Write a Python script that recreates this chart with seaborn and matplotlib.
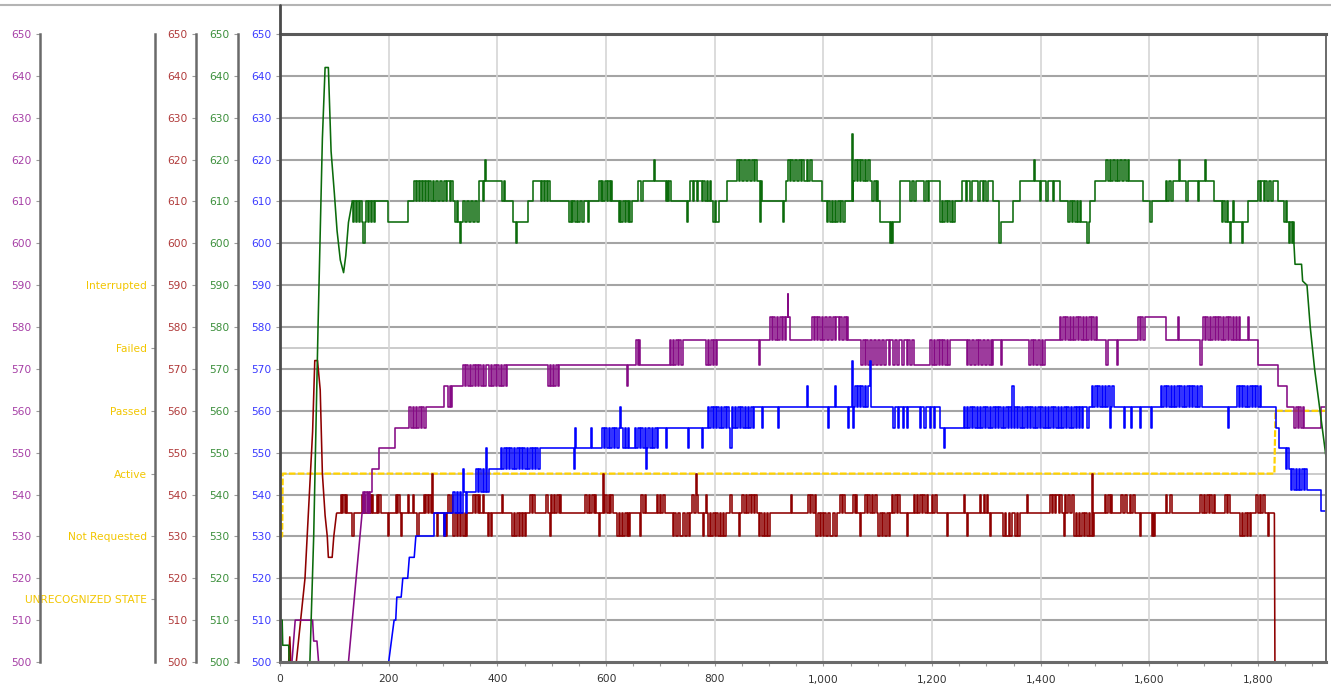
import matplotlib
matplotlib.use("Agg")
import matplotlib.pyplot as plt
from matplotlib.lines import Line2D
from matplotlib.ticker import MultipleLocator, FuncFormatter
import seaborn as sns
import pandas as pd

# ---------------- data ----------------
x_ticks = [0, 200, 400, 600, 800, 1000, 1200, 1400, 1600, 1800]
y_ticks = list(range(500, 651, 10))
status_levels = [515, 530, 545, 560, 575, 590]
status_names = ["UNRECOGNIZED STATE", "Not Requested", "Active", "Passed", "Failed", "Interrupted"]

status_line = [(0, 530), (4, 530), (5, 545), (1830, 545), (1832, 560), (1925, 560)]

green_start = [(0, 510), (4, 510), (5, 504), (16, 504), (17, 500), (55, 500), (62, 530), (70, 580),
               (78, 625), (83, 642), (89, 642), (94, 622), (100, 612), (105, 603), (111, 596),
               (117, 593), (121, 597), (126, 605), (133, 610)]
green_run = [
    (133, 610), (135, 605), (137, 610), (140, 605), (142, 610), (145, 605), (147, 610), (150, 605),
    (153, 600), (156, 605), (159, 610), (162, 605), (164, 610), (167, 605), (170, 610), (173, 605),
    (175, 610), (199, 605), (236, 610), (247, 615), (250, 610), (252, 615), (255, 610), (258, 615),
    (261, 610), (263, 615), (266, 610), (269, 615), (272, 610), (275, 615), (278, 610), (281, 615),
    (284, 610), (287, 615), (291, 610), (294, 615), (298, 610), (301, 615), (305, 610), (308, 615),
    (312, 610), (315, 615), (319, 610), (322, 605), (325, 610), (328, 605), (331, 600), (334, 605),
    (337, 610), (341, 605), (344, 610), (348, 605), (351, 610), (355, 605), (358, 610), (362, 605),
    (367, 615), (373, 610), (375, 615), (377, 620), (379, 615), (409, 610), (412, 615), (414, 610),
    (428, 605), (435, 600), (437, 605), (457, 610), (466, 615), (481, 610), (483, 615), (486, 610),
    (488, 615), (491, 610), (494, 615), (496, 610), (532, 605), (535, 610), (537, 605), (540, 610),
    (543, 605), (546, 610), (549, 605), (552, 610), (555, 605), (559, 610), (567, 605), (569, 610),
    (587, 615), (590, 610), (592, 615), (595, 610), (598, 615), (601, 610), (604, 615), (607, 610),
    (609, 615), (611, 610), (623, 605), (626, 610), (628, 605), (631, 610), (634, 605), (637, 610),
    (640, 605), (643, 610), (645, 605), (647, 610), (659, 615), (664, 610), (668, 615), (689, 620),
    (691, 615), (710, 610), (712, 615), (714, 610), (716, 615), (719, 610), (749, 605), (751, 610),
    (755, 615), (760, 610), (762, 615), (767, 610), (770, 615), (776, 610), (779, 615), (782, 610),
    (785, 615), (788, 610), (791, 615), (793, 610), (796, 605), (800, 610), (802, 605), (807, 610),
    (822, 615), (841, 620), (844, 615), (847, 620), (851, 615), (854, 620), (858, 615), (861, 620),
    (865, 615), (868, 620), (872, 615), (875, 620), (878, 615), (883, 605), (885, 615), (887, 610),
    (926, 605), (928, 610), (931, 615), (935, 620), (938, 615), (941, 620), (944, 615), (948, 620),
    (951, 615), (955, 620), (958, 615), (961, 620), (965, 615), (969, 620), (972, 615), (976, 620),
    (979, 615), (997, 610), (1006, 605), (1009, 610), (1012, 605), (1015, 610), (1018, 605),
    (1021, 610), (1024, 605), (1027, 610), (1030, 605), (1033, 610), (1036, 605), (1040, 610),
    (1052, 626), (1054, 610), (1055, 615), (1058, 620), (1061, 615), (1064, 620), (1067, 615),
    (1070, 620), (1073, 615), (1076, 620), (1079, 615), (1082, 620), (1085, 615), (1089, 610),
    (1093, 615), (1096, 610), (1099, 615), (1101, 610), (1104, 605), (1122, 600), (1124, 605),
    (1126, 600), (1128, 605), (1141, 615), (1160, 610), (1163, 615), (1167, 610), (1170, 615),
    (1185, 610), (1188, 615), (1192, 610), (1195, 615), (1215, 605), (1218, 610), (1221, 605),
    (1224, 610), (1227, 605), (1230, 610), (1233, 605), (1236, 610), (1239, 605), (1242, 610),
    (1255, 615), (1262, 610), (1265, 615), (1270, 610), (1273, 615), (1285, 610), (1288, 615),
    (1293, 610), (1296, 615), (1300, 610), (1303, 615), (1313, 610), (1324, 600), (1326, 605),
    (1349, 610), (1362, 615), (1388, 620), (1390, 615), (1398, 610), (1401, 615), (1410, 610),
    (1413, 615), (1422, 610), (1425, 615), (1436, 610), (1451, 605), (1454, 610), (1457, 605),
    (1460, 610), (1463, 605), (1466, 610), (1469, 605), (1472, 610), (1475, 605), (1486, 600),
    (1488, 605), (1490, 610), (1500, 615), (1521, 620), (1524, 615), (1527, 620), (1530, 615),
    (1533, 620), (1537, 615), (1540, 620), (1543, 615), (1546, 620), (1550, 615), (1553, 620),
    (1557, 615), (1560, 620), (1563, 615), (1588, 610), (1602, 605), (1604, 610), (1630, 615),
    (1633, 610), (1636, 615), (1640, 610), (1643, 615), (1654, 620), (1656, 615), (1668, 610),
    (1671, 615), (1690, 610), (1692, 615), (1702, 620), (1704, 615), (1718, 610), (1733, 605),
    (1736, 610), (1739, 605), (1742, 610), (1745, 605), (1748, 600), (1750, 605), (1753, 610),
    (1756, 605), (1770, 600), (1772, 605), (1782, 610), (1800, 615), (1803, 610), (1806, 615),
    (1810, 610), (1813, 615), (1817, 610), (1820, 615), (1824, 610), (1827, 615), (1836, 610),
    (1848, 605), (1851, 610), (1854, 605), (1857, 600), (1859, 605), (1862, 600), (1864, 605),
    (1866, 600)]
green_end = [(1866, 600), (1868, 595), (1880, 595), (1882, 591), (1890, 590), (1896, 580),
             (1904, 570), (1912, 562), (1918, 556), (1925, 549)]

red_start = [(16, 500), (18, 506), (20, 500), (30, 500), (46, 520), (60, 555), (64, 572),
             (69, 572), (74, 565), (78, 545), (83, 535), (87, 530), (89, 525), (96, 525),
             (99, 530), (104, 535.5)]
red_run = [
    (104, 535.5), (112, 540), (114, 535.5), (116, 540), (119, 535.5), (121, 540), (124, 535.5),
    (133, 530), (136, 535.5), (151, 540), (153, 535.5), (155, 540), (157, 535.5), (166, 540),
    (168, 535.5), (170, 540), (172, 535.5), (178, 540), (181, 535.5), (183, 540), (185, 535.5),
    (199, 530), (201, 535.5), (214, 540), (216, 535.5), (218, 540), (220, 535.5), (222, 530),
    (224, 535.5), (235, 540), (237, 535.5), (244, 540), (246, 535.5), (253, 530), (255, 535.5),
    (265, 540), (267, 535.5), (269, 540), (272, 535.5), (274, 540), (277, 535.5), (280, 545),
    (282, 535.5), (289, 530), (291, 535.5), (301, 530), (303, 535.5), (305, 530), (307, 535.5),
    (310, 540), (313, 535.5), (316, 540), (319, 530), (322, 535.5), (325, 530), (328, 535.5),
    (331, 530), (334, 535.5), (337, 530), (340, 535.5), (343, 530), (345, 535.5), (355, 540),
    (358, 535.5), (361, 540), (364, 535.5), (366, 540), (368, 535.5), (373, 540), (375, 535.5),
    (382, 530), (385, 535.5), (388, 530), (391, 535.5), (409, 540), (411, 535.5), (427, 530),
    (430, 535.5), (433, 530), (436, 535.5), (439, 530), (442, 535.5), (445, 530), (448, 535.5),
    (451, 530), (453, 535.5), (460, 540), (463, 535.5), (466, 540), (469, 535.5), (490, 540),
    (493, 535.5), (496, 530), (498, 540), (501, 535.5), (504, 540), (507, 535.5), (510, 540),
    (513, 535.5), (515, 540), (517, 535.5), (562, 540), (565, 535.5), (568, 540), (571, 535.5),
    (574, 540), (577, 535.5), (580, 540), (582, 535.5), (587, 530), (589, 535.5), (595, 545),
    (597, 535.5), (599, 540), (602, 535.5), (605, 540), (608, 535.5), (610, 540), (612, 535.5),
    (620, 530), (623, 535.5), (626, 530), (629, 535.5), (632, 530), (635, 535.5), (638, 530),
    (641, 535.5), (643, 530), (645, 535.5), (662, 530), (664, 540), (668, 535.5), (671, 540),
    (674, 535.5), (693, 540), (696, 535.5), (699, 540), (702, 535.5), (705, 540), (708, 535.5),
    (723, 530), (726, 535.5), (729, 530), (733, 535.5), (737, 530), (741, 535.5), (745, 530),
    (749, 535.5), (752, 530), (755, 535.5), (759, 540), (762, 535.5), (765, 545), (767, 540),
    (770, 535.5), (778, 530), (780, 535.5), (784, 540), (786, 535.5), (788, 530), (791, 535.5),
    (794, 530), (797, 535.5), (800, 530), (803, 535.5), (806, 530), (809, 535.5), (812, 530),
    (815, 535.5), (818, 530), (820, 535.5), (829, 540), (831, 535.5), (844, 530), (846, 535.5),
    (851, 540), (854, 535.5), (857, 540), (860, 535.5), (863, 540), (866, 535.5), (869, 540),
    (872, 535.5), (875, 540), (877, 535.5), (881, 530), (884, 535.5), (887, 530), (890, 535.5),
    (893, 530), (896, 535.5), (899, 530), (901, 535.5), (941, 540), (943, 535.5), (972, 540),
    (975, 535.5), (978, 540), (981, 535.5), (984, 540), (987, 530), (990, 535.5), (993, 530),
    (996, 535.5), (999, 530), (1002, 535.5), (1005, 530), (1009, 535.5), (1013, 530),
    (1017, 535.5), (1021, 530), (1025, 535.5), (1031, 540), (1034, 535.5), (1037, 540),
    (1040, 535.5), (1055, 540), (1058, 535.5), (1060, 540), (1062, 535.5), (1067, 530),
    (1069, 535.5), (1077, 540), (1080, 535.5), (1083, 540), (1086, 535.5), (1089, 540),
    (1092, 535.5), (1095, 540), (1098, 535.5), (1101, 530), (1104, 535.5), (1107, 530),
    (1110, 535.5), (1113, 530), (1117, 535.5), (1120, 530), (1122, 535.5), (1126, 540),
    (1129, 535.5), (1132, 540), (1135, 535.5), (1138, 540), (1141, 535.5), (1153, 530),
    (1155, 535.5), (1166, 540), (1169, 535.5), (1172, 540), (1175, 535.5), (1178, 540),
    (1181, 535.5), (1184, 540), (1187, 535.5), (1190, 540), (1192, 535.5), (1199, 540),
    (1202, 535.5), (1206, 540), (1209, 535.5), (1227, 530), (1229, 535.5), (1258, 540),
    (1260, 535.5), (1264, 530), (1266, 535.5), (1288, 540), (1291, 535.5), (1295, 540),
    (1298, 535.5), (1301, 540), (1303, 535.5), (1307, 530), (1309, 535.5), (1331, 530),
    (1334, 535.5), (1337, 530), (1341, 535.5), (1344, 530), (1348, 535.5), (1352, 530),
    (1356, 535.5), (1359, 530), (1361, 535.5), (1374, 540), (1376, 535.5), (1417, 540),
    (1420, 535.5), (1423, 540), (1426, 535.5), (1429, 540), (1433, 535.5), (1436, 540),
    (1439, 535.5), (1442, 530), (1444, 540), (1447, 535.5), (1451, 540), (1454, 535.5),
    (1458, 540), (1461, 530), (1464, 535.5), (1467, 530), (1470, 535.5), (1473, 530),
    (1476, 535.5), (1479, 530), (1482, 535.5), (1485, 530), (1488, 535.5), (1491, 530),
    (1494, 545), (1496, 530), (1498, 535.5), (1518, 540), (1521, 535.5), (1524, 540),
    (1527, 535.5), (1530, 540), (1532, 535.5), (1548, 540), (1551, 535.5), (1555, 540),
    (1558, 535.5), (1564, 540), (1567, 535.5), (1570, 540), (1573, 535.5), (1582, 530),
    (1585, 535.5), (1604, 530), (1607, 535.5), (1609, 530), (1611, 535.5), (1630, 540),
    (1633, 535.5), (1637, 540), (1642, 535.5), (1694, 540), (1697, 535.5), (1700, 540),
    (1703, 535.5), (1706, 540), (1709, 535.5), (1712, 540), (1715, 535.5), (1718, 540),
    (1721, 535.5), (1739, 540), (1742, 535.5), (1745, 540), (1748, 535.5), (1767, 530),
    (1770, 535.5), (1773, 530), (1776, 535.5), (1779, 530), (1782, 535.5), (1785, 530),
    (1787, 535.5), (1797, 540), (1800, 535.5), (1803, 540), (1806, 535.5), (1809, 540),
    (1812, 535.5), (1818, 530), (1820, 535.5), (1830, 535.5)]
red_end = [(1830, 535.5), (1831, 500)]

purple_start = [(22, 500), (28, 510), (60, 510), (62, 505), (68, 505), (71, 500), (126, 500),
                (151, 535.5)]
purple_run = [
    (151, 535.5), (153, 540.5), (155, 535.5), (157, 540.5), (160, 535.5), (162, 540.5),
    (164, 535.5), (166, 540.5), (169, 546), (182, 551), (211, 556), (238, 561), (241, 556),
    (244, 561), (247, 556), (250, 561), (253, 556), (256, 561), (259, 556), (262, 561),
    (265, 556), (268, 561), (301, 566), (310, 561), (312, 566), (315, 561), (317, 566),
    (337, 571), (340, 566), (343, 571), (346, 566), (349, 571), (352, 566), (355, 571),
    (358, 566), (361, 571), (364, 566), (367, 571), (370, 566), (373, 571), (376, 566),
    (379, 571), (385, 566), (388, 571), (391, 566), (394, 571), (397, 566), (400, 571),
    (403, 566), (406, 571), (409, 566), (412, 571), (415, 566), (418, 571), (493, 566),
    (496, 571), (499, 566), (502, 571), (505, 566), (508, 571), (511, 566), (514, 571),
    (638, 566), (640, 571), (656, 577), (659, 571), (661, 577), (663, 571), (717, 577),
    (720, 571), (723, 577), (726, 571), (729, 577), (732, 571), (735, 577), (738, 571),
    (741, 577), (784, 571), (787, 577), (790, 571), (793, 577), (796, 571), (799, 577),
    (802, 571), (805, 577), (881, 571), (883, 577), (902, 582.5), (905, 577), (908, 582.5),
    (911, 577), (914, 582.5), (917, 577), (920, 582.5), (923, 577), (926, 582.5), (929, 577),
    (932, 582.5), (934, 588), (935, 582.5), (938, 577), (979, 582.5), (982, 577), (985, 582.5),
    (988, 577), (991, 582.5), (994, 577), (997, 582.5), (1000, 577), (1003, 582.5), (1007, 577),
    (1010, 582.5), (1014, 577), (1017, 582.5), (1021, 577), (1024, 582.5), (1028, 577),
    (1031, 582.5), (1035, 577), (1038, 582.5), (1042, 577), (1044, 582.5), (1046, 577),
    (1070, 571), (1073, 577), (1076, 571), (1079, 577), (1083, 571), (1086, 577), (1090, 571),
    (1093, 577), (1097, 571), (1100, 577), (1105, 571), (1108, 577), (1112, 571), (1115, 577),
    (1120, 571), (1123, 577), (1128, 571), (1131, 577), (1136, 571), (1139, 577), (1145, 571),
    (1148, 577), (1153, 571), (1156, 577), (1160, 571), (1163, 577), (1166, 571), (1197, 577),
    (1200, 571), (1203, 577), (1206, 571), (1209, 577), (1212, 571), (1215, 577), (1218, 571),
    (1221, 577), (1224, 571), (1227, 577), (1230, 571), (1233, 577), (1264, 571), (1267, 577),
    (1270, 571), (1273, 577), (1277, 571), (1280, 577), (1284, 571), (1287, 577), (1291, 571),
    (1294, 577), (1298, 571), (1301, 577), (1305, 571), (1308, 577), (1311, 571), (1313, 577),
    (1327, 571), (1329, 577), (1379, 571), (1382, 577), (1385, 571), (1388, 577), (1392, 571),
    (1395, 577), (1399, 571), (1402, 577), (1405, 571), (1408, 577), (1435, 582.5), (1438, 577),
    (1441, 582.5), (1444, 577), (1447, 582.5), (1450, 577), (1453, 582.5), (1456, 577),
    (1459, 582.5), (1462, 577), (1465, 582.5), (1468, 577), (1471, 582.5), (1474, 577),
    (1477, 582.5), (1480, 577), (1483, 582.5), (1486, 577), (1489, 582.5), (1492, 577),
    (1495, 582.5), (1498, 577), (1501, 582.5), (1503, 577), (1521, 571), (1523, 577),
    (1540, 571), (1542, 577), (1579, 582.5), (1582, 577), (1585, 582.5), (1588, 577),
    (1591, 582.5), (1630, 577), (1652, 582.5), (1654, 577), (1694, 571), (1696, 577),
    (1699, 582.5), (1702, 577), (1705, 582.5), (1708, 577), (1711, 582.5), (1714, 577),
    (1717, 582.5), (1720, 577), (1723, 582.5), (1726, 577), (1729, 582.5), (1732, 577),
    (1735, 582.5), (1738, 577), (1741, 582.5), (1744, 577), (1747, 582.5), (1750, 577),
    (1753, 582.5), (1756, 577), (1759, 582.5), (1762, 577), (1765, 582.5), (1767, 577),
    (1781, 582.5), (1783, 577), (1800, 571), (1836, 566), (1854, 561), (1867, 556),
    (1870, 561), (1873, 556), (1876, 561), (1879, 556), (1882, 561), (1885, 556), (1915, 561),
    (1925, 561)]

blue_start = [(200, 500), (210, 510), (213, 510), (215, 515.5), (223, 515.5), (226, 520),
              (235, 520), (238, 525), (247, 525), (250, 530)]
blue_run = [
    (250, 530), (283, 535.5), (301, 530), (303, 535.5), (319, 540.5), (322, 535.5), (325, 540.5),
    (328, 535.5), (331, 540.5), (334, 535.5), (337, 546), (339, 540.5), (342, 535.5),
    (345, 540.5), (361, 546), (364, 540.5), (367, 546), (370, 540.5), (373, 546), (376, 540.5),
    (379, 551), (381, 540.5), (385, 546), (406, 551), (409, 546), (412, 551), (415, 546),
    (418, 551), (421, 546), (424, 551), (427, 546), (430, 551), (433, 546), (436, 551),
    (439, 546), (442, 551), (445, 546), (448, 551), (451, 546), (454, 551), (457, 546),
    (460, 551), (463, 546), (466, 551), (469, 546), (472, 551), (475, 546), (478, 551),
    (541, 546), (543, 556), (545, 551), (572, 556), (574, 551), (593, 556), (596, 551),
    (599, 556), (602, 551), (605, 556), (608, 551), (611, 556), (614, 551), (617, 556),
    (620, 551), (623, 556), (626, 561), (628, 556), (631, 551), (634, 556), (637, 551),
    (640, 556), (643, 551), (653, 556), (656, 551), (659, 556), (662, 551), (665, 556),
    (668, 551), (671, 556), (673, 546), (675, 551), (678, 556), (681, 551), (684, 556),
    (687, 551), (690, 556), (693, 551), (696, 556), (711, 551), (713, 556), (750, 551),
    (752, 556), (777, 551), (779, 556), (787, 561), (790, 556), (793, 561), (796, 556),
    (799, 561), (802, 556), (805, 561), (808, 556), (811, 561), (814, 556), (817, 561),
    (820, 556), (823, 561), (826, 556), (829, 551), (831, 561), (834, 556), (837, 561),
    (840, 556), (843, 561), (846, 556), (849, 561), (852, 556), (855, 561), (858, 556),
    (861, 561), (864, 556), (867, 561), (870, 556), (873, 561), (887, 556), (889, 561),
    (917, 556), (919, 561), (969, 566), (971, 561), (1009, 556), (1011, 561), (1021, 566),
    (1023, 561), (1046, 556), (1048, 561), (1052, 572), (1054, 556), (1056, 561), (1058, 566),
    (1061, 561), (1064, 566), (1067, 561), (1070, 566), (1073, 561), (1076, 566), (1079, 561),
    (1082, 566), (1085, 572), (1087, 561), (1129, 556), (1131, 561), (1137, 556), (1139, 561),
    (1146, 556), (1148, 561), (1153, 556), (1155, 561), (1177, 556), (1179, 561), (1186, 556),
    (1188, 561), (1196, 556), (1198, 561), (1203, 556), (1205, 561), (1215, 556), (1222, 551),
    (1224, 556), (1258, 561), (1261, 556), (1264, 561), (1267, 556), (1270, 561), (1273, 556),
    (1276, 561), (1279, 556), (1282, 561), (1285, 556), (1288, 561), (1291, 556), (1294, 561),
    (1297, 556), (1300, 561), (1303, 556), (1306, 561), (1309, 556), (1312, 561), (1315, 556),
    (1318, 561), (1321, 556), (1324, 561), (1327, 556), (1330, 561), (1333, 556), (1336, 561),
    (1339, 556), (1342, 561), (1345, 556), (1348, 566), (1350, 556), (1353, 561), (1356, 556),
    (1359, 561), (1362, 556), (1365, 561), (1368, 556), (1371, 561), (1374, 556), (1377, 561),
    (1380, 556), (1383, 561), (1386, 556), (1389, 561), (1392, 556), (1395, 561), (1398, 556),
    (1401, 561), (1404, 556), (1407, 561), (1410, 556), (1413, 561), (1416, 556), (1419, 561),
    (1422, 556), (1425, 561), (1428, 556), (1431, 561), (1434, 556), (1437, 561), (1440, 556),
    (1443, 561), (1446, 556), (1449, 561), (1452, 556), (1455, 561), (1458, 556), (1461, 561),
    (1464, 556), (1467, 561), (1470, 556), (1473, 561), (1476, 556), (1478, 561), (1486, 556),
    (1488, 561), (1494, 566), (1497, 561), (1500, 566), (1503, 561), (1506, 566), (1509, 561),
    (1512, 566), (1515, 561), (1518, 566), (1521, 561), (1524, 566), (1527, 556), (1529, 561),
    (1532, 566), (1535, 561), (1554, 556), (1556, 561), (1566, 556), (1568, 561), (1582, 556),
    (1584, 561), (1603, 556), (1605, 561), (1621, 566), (1624, 561), (1627, 566), (1630, 561),
    (1633, 566), (1636, 561), (1639, 566), (1642, 561), (1645, 566), (1648, 561), (1651, 566),
    (1654, 561), (1657, 566), (1660, 561), (1663, 566), (1666, 561), (1669, 566), (1672, 561),
    (1675, 566), (1678, 561), (1681, 566), (1684, 561), (1687, 566), (1690, 561), (1693, 566),
    (1697, 561), (1745, 556), (1747, 561), (1761, 566), (1764, 561), (1767, 566), (1770, 561),
    (1773, 566), (1776, 561), (1779, 566), (1782, 561), (1785, 566), (1788, 561), (1791, 566),
    (1794, 561), (1797, 566), (1800, 561), (1803, 566), (1806, 561), (1833, 556), (1839, 551),
    (1851, 546), (1854, 551), (1857, 546), (1860, 541), (1863, 546), (1866, 541), (1869, 546),
    (1872, 541), (1875, 546), (1878, 541), (1881, 546), (1884, 541), (1887, 546), (1890, 541),
    (1915, 536), (1925, 536)]

# ---------------- colours ----------------
C_GREEN, C_RED, C_PURPLE, C_BLUE, C_GOLD = "#0b6b0b", "#8e0000", "#850a85", "#0000ff", "#ffd200"
T_GREEN, T_RED, T_PURPLE, T_BLUE, T_GOLD = "#3b8f3b", "#b03a3a", "#a63fa6", "#3a3aff", "#f2c600"
LABEL_SIZE = 7.7

sns.set_style("white")
plt.rcParams["font.family"] = ["DejaVu Sans"]

W, H = 1331, 692
fig = plt.figure(figsize=(W / 100, H / 100), dpi=100)
L, R, T, B = 280, 1326, 34, 662
ax = fig.add_axes([L / W, 1 - B / H, (R - L) / W, (B - T) / H])
ax.set_xlim(0, 1925)
ax.set_ylim(500, 650)
ax.set_axisbelow(True)

# grid
for v in y_ticks[1:-1]:
    ax.axhline(v, color="#a4a4a4", lw=1.5, zorder=0)
for v in (515, 545, 575):
    ax.axhline(v, color="#bdbdbd", lw=1.1, zorder=0)
for v in x_ticks[1:]:
    ax.axvline(v, color="#d6d6d6", lw=1.2, zorder=0)


def draw(points, color, steps, lw=1.15, **kw):
    df = pd.DataFrame(points, columns=["x", "y"])
    sns.lineplot(data=df, x="x", y="y", ax=ax, color=color, lw=lw, estimator=None,
                 sort=False, drawstyle="steps-post" if steps else "default", **kw)


draw(status_line, C_GOLD, False, lw=1.6, linestyle=(0, (3, 1)))
draw(red_start, C_RED, False)
draw(red_run, C_RED, True)
draw(red_end, C_RED, False)
draw(purple_start, C_PURPLE, False)
draw(purple_run, C_PURPLE, True)
draw(blue_start, C_BLUE, False)
draw(blue_run, C_BLUE, True)
draw(green_start, C_GREEN, False)
draw(green_run, C_GREEN, True)
draw(green_end, C_GREEN, False)

ax.set_xlabel("")
ax.set_ylabel("")

# main axes frame
for side in ("top", "bottom", "left", "right"):
    ax.spines[side].set_visible(True)
ax.spines["top"].set_color("#5a5a5a"); ax.spines["top"].set_linewidth(2.2)
ax.spines["bottom"].set_color("#6a6a6a"); ax.spines["bottom"].set_linewidth(2.2)
ax.spines["left"].set_color("#4a4a4a"); ax.spines["left"].set_linewidth(2.0)
ax.spines["right"].set_color("#6a6a6a"); ax.spines["right"].set_linewidth(1.4)

ax.xaxis.set_major_locator(MultipleLocator(200))
ax.xaxis.set_minor_locator(MultipleLocator(50))
ax.xaxis.set_major_formatter(FuncFormatter(lambda v, p: f"{int(v):,}"))
ax.tick_params(axis="x", which="both", direction="out", length=3, width=0.8, color="#9a9a9a",
               labelsize=LABEL_SIZE, labelcolor="#333333", pad=6, bottom=True)
ax.set_yticks(y_ticks)
ax.tick_params(axis="y", direction="out", length=3, width=0.8, color="#9a9a9a",
               labelsize=LABEL_SIZE, labelcolor=T_BLUE, pad=3, left=True)


def side_axis(offset_px, ticks, labels, color):
    tw = ax.twinx()
    tw.set_ylim(500, 650)
    for side in ("top", "bottom", "right"):
        tw.spines[side].set_visible(False)
    sp = tw.spines["left"]
    sp.set_visible(True)
    sp.set_position(("axes", -offset_px / (R - L)))
    sp.set_color("#6a6a6a")
    sp.set_linewidth(1.8)
    tw.yaxis.set_ticks_position("left")
    tw.yaxis.set_label_position("left")
    tw.set_yticks(ticks)
    tw.set_yticklabels(labels)
    tw.tick_params(axis="y", direction="out", length=3, width=0.8, color="#9a9a9a",
                   labelsize=LABEL_SIZE, labelcolor=color, pad=3)
    tw.grid(False)
    return tw


side_axis(42, y_ticks, [str(v) for v in y_ticks], T_GREEN)
side_axis(84, y_ticks, [str(v) for v in y_ticks], T_RED)
side_axis(125, status_levels, status_names, T_GOLD)
side_axis(240, y_ticks, [str(v) for v in y_ticks], T_PURPLE)

# outer frame line at the top and the upward continuation of the main axis line
fig.add_artist(Line2D([0, 1], [1 - 5 / H, 1 - 5 / H], transform=fig.transFigure,
                      color="#b4b4b4", lw=1.5))
fig.add_artist(Line2D([L / W, L / W], [1 - 5 / H, 1 - T / H], transform=fig.transFigure,
                      color="#4a4a4a", lw=2.0))

fig.savefig("out.png", dpi=100)
